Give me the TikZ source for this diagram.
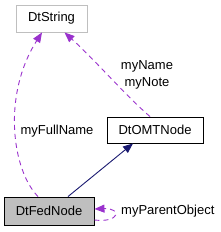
\documentclass[tikz,border=0pt]{standalone}
\usepackage{fontspec}
\setmainfont{Liberation Sans}
\usetikzlibrary{arrows.meta,calc}
\definecolor{dep}{HTML}{9A32CD}
\definecolor{inh}{HTML}{191970}
\definecolor{boxgrey}{HTML}{BFBFBF}
\begin{document}
\begin{tikzpicture}[x=1pt,y=-1pt,
  every node/.style={font=\fontsize{13}{17}\selectfont},
  cls/.style={draw=black,line width=0.9pt,fill=white,inner sep=0pt,minimum height=26pt},
  deparrow/.style={dep,line width=0.9pt,dash pattern=on 5pt off 4pt,-{Triangle[length=10pt,width=8pt]}},
  inharrow/.style={inh,line width=0.9pt,-{Triangle[length=10pt,width=8pt]}},
  lbl/.style={inner sep=0pt}]
\useasboundingbox (0,0) rectangle (221,232);
\node[cls,draw=boxgrey,minimum width=71pt,minimum height=27pt] (str) at (51.5,18.5) {DtString};
\node[cls,minimum width=96pt] (omt) at (155,130) {DtOMTNode};
\node[cls,fill=boxgrey,minimum width=90pt,minimum height=28pt] (fed) at (49,211) {DtFedNode};
\draw[inharrow] ($(fed.north)+(19,0)$) -- ($(omt.south)+(-22,0)$);
\draw[deparrow] ($(fed.north)+(-11,0)$) .. controls (12,170) and (2,95) .. ($(str.south)+(-9.5,0)$);
\draw[deparrow] ($(omt.north)+(-5,0)$) .. controls (125,95) and (95,60) .. ($(str.south)+(13,0)$);
\draw[deparrow] ($(fed.east)+(0,9)$) .. controls (120,223) and (122,208) .. ($(fed.east)+(0,-2)$);
\node[lbl,align=center] (lname) at (147,74.5) {myName\\myNote};
\node[lbl] (lfull) at (57,131) {myFullName};
\node[lbl,anchor=west] (lpar) at (121,211) {myParentObject};
\end{tikzpicture}
\end{document}
